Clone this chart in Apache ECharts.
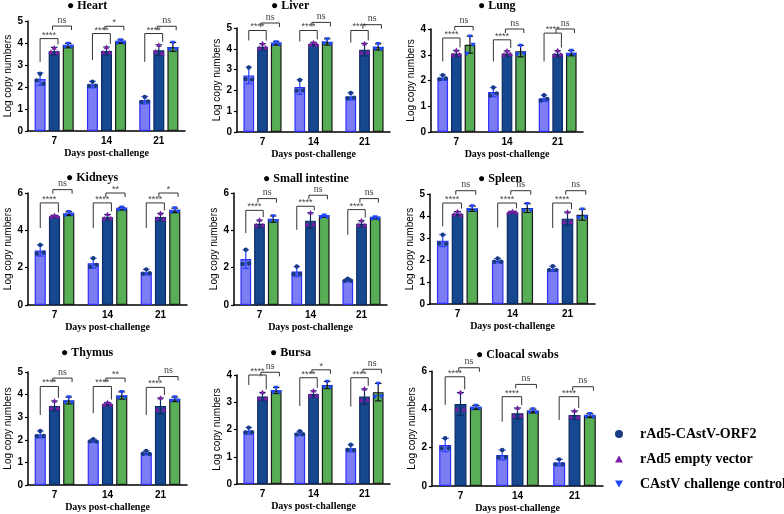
<!DOCTYPE html>
<html>
<head>
<meta charset="utf-8">
<script src="https://cdn.jsdelivr.net/npm/echarts@6/dist/echarts.min.js"></script>
<style>
html, body { margin: 0; padding: 0; background: #fff; }
#main { width: 784px; height: 514px; }
</style>
</head>
<body>
<div id="main"></div>
<script>
// categories
const days = ['7', '14', '21'];
const groupNames = ['rAd5-CAstV-ORF2', 'rAd5 empty vector', 'CAstV challenge control'];

// [group][day] means, sd and individual points
const heartMean = [[2.36, 2.11, 1.40], [3.63, 3.64, 3.67], [3.88, 4.06, 3.82]];
const heartSd = [[0.28, 0.15, 0.17], [0.17, 0.18, 0.25], [0.10, 0.08, 0.20]];
const heartPts = [
  [[2.60, 2.30, 2.15], [2.24, 2.05, 2.06], [1.55, 1.32, 1.34]],
  [[3.78, 3.58, 3.55], [3.80, 3.56, 3.57], [3.90, 3.60, 3.52]],
  [[3.97, 3.84, 3.85], [4.13, 4.02, 4.03], [4.02, 3.72, 3.74]]
];
const heartSig = ['ns', '*', 'ns'];
const heartB1 = [4.20, 4.43, 4.43];
const heartLeg = [3.14, 3.22, 3.14];
const heartB2 = [4.77, 4.76, 4.76];

const liverMean = [[2.72, 2.16, 1.71], [4.10, 4.23, 3.96], [4.26, 4.33, 4.09]];
const liverSd = [[0.40, 0.35, 0.17], [0.15, 0.08, 0.30], [0.08, 0.15, 0.15]];
const liverPts = [
  [[3.10, 2.55, 2.52], [2.50, 1.98, 2.00], [1.88, 1.62, 1.65]],
  [[4.25, 4.02, 4.05], [4.30, 4.18, 4.20], [4.25, 3.80, 3.82]],
  [[4.33, 4.22, 4.23], [4.47, 4.28, 4.25], [4.24, 4.02, 4.01]]
];
const liverSig = ['ns', 'ns', 'ns'];
const liverB1 = [4.88, 4.88, 4.88];
const liverLeg = [4.40, 4.35, 4.30];
const liverB2 = [5.24, 5.27, 5.16];

const lungMean = [[2.11, 1.55, 1.31], [3.05, 3.05, 3.04], [3.39, 3.14, 3.06]];
const lungSd = [[0.10, 0.18, 0.12], [0.12, 0.10, 0.12], [0.33, 0.22, 0.10]];
const lungPts = [
  [[2.21, 2.05, 2.08], [1.73, 1.42, 1.50], [1.43, 1.22, 1.28]],
  [[3.17, 2.98, 3.00], [3.15, 2.98, 3.02], [3.16, 2.97, 3.00]],
  [[3.72, 3.05, 3.40], [3.36, 3.02, 3.05], [3.16, 3.01, 3.02]]
];
const lungSig = ['ns', 'ns', 'ns'];
const lungB1 = [3.65, 3.58, 3.84];
const lungLeg = [2.74, 2.74, 2.74];
const lungB2 = [4.10, 4.00, 4.00];

const kidneysMean = [[2.92, 2.24, 1.76], [4.75, 4.70, 4.71], [4.89, 5.16, 5.07]];
const kidneysSd = [[0.30, 0.27, 0.15], [0.05, 0.15, 0.20], [0.10, 0.07, 0.12]];
const kidneysPts = [
  [[3.22, 2.75, 2.80], [2.51, 2.05, 2.15], [1.91, 1.68, 1.70]],
  [[4.80, 4.72, 4.73], [4.85, 4.62, 4.63], [4.91, 4.62, 4.60]],
  [[4.99, 4.82, 4.86], [5.23, 5.12, 5.13], [5.19, 5.00, 5.02]]
];
const kidneysSig = ['ns', '**', '*'];
const kidneysB1 = [5.47, 5.47, 5.47];
const kidneysLeg = [4.12, 4.12, 4.12];
const kidneysB2 = [6.18, 6.00, 6.00];

const intestineMean = [[2.46, 1.79, 1.33], [4.35, 4.52, 4.35], [4.60, 4.75, 4.66]];
const intestineSd = [[0.50, 0.27, 0.08], [0.20, 0.42, 0.17], [0.17, 0.05, 0.05]];
const intestinePts = [
  [[2.96, 2.20, 2.22], [2.06, 1.65, 1.66], [1.41, 1.29, 1.30]],
  [[4.55, 4.25, 4.26], [4.94, 4.30, 4.32], [4.52, 4.27, 4.26]],
  [[4.77, 4.52, 4.51], [4.80, 4.72, 4.73], [4.71, 4.63, 4.64]]
];
const intestineSig = ['ns', 'ns', 'ns'];
const intestineB1 = [5.07, 5.29, 5.11];
const intestineLeg = [3.85, 4.03, 3.76];
const intestineB2 = [5.70, 5.88, 5.70];

const spleenMean = [[2.88, 1.97, 1.60], [4.10, 4.17, 3.88], [4.33, 4.36, 4.06]];
const spleenSd = [[0.27, 0.10, 0.12], [0.10, 0.04, 0.30], [0.12, 0.20, 0.25]];
const spleenPts = [
  [[3.15, 2.75, 2.74], [2.07, 1.92, 1.92], [1.72, 1.54, 1.54]],
  [[4.20, 4.06, 4.04], [4.21, 4.15, 4.15], [4.18, 3.73, 3.72]],
  [[4.45, 4.28, 4.27], [4.56, 4.26, 4.27], [4.31, 3.93, 3.95]]
];
const spleenSig = ['ns', 'ns', 'ns'];
const spleenB1 = [4.59, 4.59, 4.59];
const spleenLeg = [3.53, 3.48, 3.45];
const spleenB2 = [5.15, 5.15, 5.15];

const thymusMean = [[2.24, 1.96, 1.42], [3.50, 3.58, 3.50], [3.74, 3.96, 3.79]];
const thymusSd = [[0.15, 0.07, 0.09], [0.22, 0.07, 0.35], [0.15, 0.16, 0.10]];
const thymusPts = [
  [[2.39, 2.16, 2.17], [2.03, 1.93, 1.92], [1.51, 1.38, 1.37]],
  [[3.72, 3.40, 3.39], [3.65, 3.54, 3.55], [3.85, 3.32, 3.33]],
  [[3.89, 3.67, 3.66], [4.12, 3.87, 3.89], [3.89, 3.74, 3.75]]
];
const thymusSig = ['ns', '**', 'ns'];
const thymusB1 = [4.36, 4.36, 4.32];
const thymusLeg = [3.10, 3.18, 3.10];
const thymusB2 = [4.73, 4.73, 4.80];

const bursaMean = [[1.95, 1.86, 1.31], [3.21, 3.30, 3.21], [3.43, 3.63, 3.37]];
const bursaSd = [[0.12, 0.08, 0.13], [0.15, 0.12, 0.28], [0.11, 0.13, 0.32]];
const bursaPts = [
  [[2.07, 1.89, 1.90], [1.94, 1.82, 1.83], [1.44, 1.25, 1.24]],
  [[3.36, 3.13, 3.14], [3.42, 3.24, 3.24], [3.49, 3.07, 3.08]],
  [[3.54, 3.38, 3.37], [3.76, 3.57, 3.56], [3.69, 3.21, 3.22]]
];
const bursaSig = ['ns', '*', 'ns'];
const bursaB1 = [4.00, 3.90, 3.90];
const bursaLeg = [3.63, 2.86, 2.84];
const bursaB2 = [4.10, 4.19, 4.21];

const cloacaMean = [[2.14, 1.62, 1.22], [4.28, 3.79, 3.70], [4.10, 3.91, 3.67]];
const cloacaSd = [[0.35, 0.26, 0.17], [0.60, 0.28, 0.22], [0.10, 0.10, 0.10]];
const cloacaPts = [
  [[2.49, 1.96, 1.97], [1.88, 1.49, 1.50], [1.39, 1.13, 1.14]],
  [[4.88, 3.98, 3.97], [4.07, 3.65, 3.66], [3.92, 3.59, 3.58]],
  [[4.20, 4.05, 4.06], [4.01, 3.86, 3.86], [3.77, 3.62, 3.62]]
];
const cloacaSig = ['ns', 'ns', 'ns'];
const cloacaB1 = [5.70, 4.66, 4.66];
const cloacaLeg = [4.23, 3.36, 3.44];
const cloacaB2 = [6.17, 5.30, 5.18];

const panels = [
  { name: 'Heart', max: 5, step: 1, mean: heartMean, sd: heartSd, pts: heartPts, sig: heartSig, b1: heartB1, leg: heartLeg, b2: heartB2, box: [28, 21, 157, 110], head: [67, 0] },
  { name: 'Liver', max: 5, step: 1, mean: liverMean, sd: liverSd, pts: liverPts, sig: liverSig, b1: liverB1, leg: liverLeg, b2: liverB2, box: [237, 28, 153, 104], head: [271, 0] },
  { name: 'Lung', max: 4, step: 1, mean: lungMean, sd: lungSd, pts: lungPts, sig: lungSig, b1: lungB1, leg: lungLeg, b2: lungB2, box: [431, 29, 152, 103], head: [478, 0] },
  { name: 'Kidneys', max: 6, step: 2, mean: kidneysMean, sd: kidneysSd, pts: kidneysPts, sig: kidneysSig, b1: kidneysB1, leg: kidneysLeg, b2: kidneysB2, box: [28, 193, 159, 112], head: [66, 172] },
  { name: 'Small intestine', max: 6, step: 2, mean: intestineMean, sd: intestineSd, pts: intestinePts, sig: intestineSig, b1: intestineB1, leg: intestineLeg, b2: intestineB2, box: [234, 193, 153, 112], head: [263, 173] },
  { name: 'Spleen', max: 5, step: 1, mean: spleenMean, sd: spleenSd, pts: spleenPts, sig: spleenSig, b1: spleenB1, leg: spleenLeg, b2: spleenB2, box: [430, 194, 165, 110], head: [478, 173] },
  { name: 'Thymus', max: 5, step: 1, mean: thymusMean, sd: thymusSd, pts: thymusPts, sig: thymusSig, b1: thymusB1, leg: thymusLeg, b2: thymusB2, box: [28, 372, 159, 113], head: [61, 347] },
  { name: 'Bursa', max: 4, step: 1, mean: bursaMean, sd: bursaSd, pts: bursaPts, sig: bursaSig, b1: bursaB1, leg: bursaLeg, b2: bursaB2, box: [237, 375, 153, 109], head: [270, 347] },
  { name: 'Cloacal swabs', max: 6, step: 2, mean: cloacaMean, sd: cloacaSd, pts: cloacaPts, sig: cloacaSig, b1: cloacaB1, leg: cloacaLeg, b2: cloacaB2, box: [432, 371, 171, 115], head: [476, 349] }
];

const BAR_W = 0.21, BAR_GAP = 0.28;
const barFill = ['#7d7df3', '#16488f', '#58ae54'];
const barEdge = ['#2f2fff', '#0c2a63', '#1a1a1a'];
const errColor = ['#2540ff', '#0c2a63', '#111111'];
const ptColor = ['#183c80', '#7a1fa3', '#1f47ff'];
const ptOffset = [0, -0.3, 0.3];

// centre x of bar s inside category j
function barX(api, j, s) {
  const band = api.size([1, 0])[0];
  const w = band * BAR_W;
  const c = api.coord([j, 0])[0];
  return { x: c + (s - 1) * w * (1 + BAR_GAP), w: w };
}

function marker(s, x, y) {
  const st = { fill: ptColor[s] };
  if (s === 0) return { type: 'circle', shape: { cx: x, cy: y, r: 2.2 }, style: st };
  if (s === 1) return { type: 'polygon', shape: { points: [[x, y - 2.8], [x - 2.6, y + 1.8], [x + 2.6, y + 1.8]] }, style: st };
  return { type: 'polygon', shape: { points: [[x, y + 2.8], [x - 2.6, y - 1.8], [x + 2.6, y - 1.8]] }, style: st };
}

const grid = [], xAxis = [], yAxis = [], series = [], title = [];

panels.forEach(function (p, i) {
  grid.push({ left: p.box[0], top: p.box[1], width: p.box[2], height: p.box[3], containLabel: false });
  title.push({
    text: '\u25CF ' + p.name, left: p.head[0], top: p.head[1], padding: 0,
    textStyle: { fontFamily: 'Liberation Serif', fontWeight: 'bold', fontSize: 12, color: '#000' }
  });
  xAxis.push({
    type: 'category', gridIndex: i, data: days,
    axisLine: { lineStyle: { color: '#000', width: 1.5 } },
    axisTick: { alignWithLabel: true, length: 3, lineStyle: { color: '#000', width: 1.2 } },
    axisLabel: { color: '#000', fontWeight: 'bold', fontSize: 10, fontFamily: 'Liberation Sans', margin: 5 },
    name: 'Days post-challenge', nameLocation: 'middle', nameGap: 17,
    nameTextStyle: { fontFamily: 'Liberation Serif', fontWeight: 'bold', fontSize: 10, color: '#000' }
  });
  yAxis.push({
    type: 'value', gridIndex: i, min: 0, max: p.max, interval: p.step,
    splitLine: { show: false },
    axisLine: { show: true, lineStyle: { color: '#000', width: 1.5 } },
    axisTick: { show: true, length: 3, lineStyle: { color: '#000', width: 1.2 } },
    axisLabel: { color: '#000', fontWeight: 'bold', fontSize: 10, fontFamily: 'Liberation Sans', margin: 5 },
    name: 'Log copy numbers', nameLocation: 'middle', nameGap: 13,
    nameTextStyle: { fontFamily: 'Liberation Sans', fontSize: 10, color: '#000' }
  });

  for (let s = 0; s < 3; s++) {
    series.push({
      type: 'bar', name: 'bar' + s, xAxisIndex: i, yAxisIndex: i,
      barWidth: (BAR_W * 100) + '%', barGap: (BAR_GAP * 100) + '%',
      data: p.mean[s], silent: true, z: 2,
      itemStyle: { color: barFill[s], borderColor: barEdge[s], borderWidth: 1.2 }
    });
  }
  for (let s = 0; s < 3; s++) {
    series.push({
      type: 'custom', name: 'err' + s, xAxisIndex: i, yAxisIndex: i, z: 3, silent: true, clip: false,
      data: days.map(function (d, j) { return [j, p.mean[s][j], p.sd[s][j]]; }),
      renderItem: function (params, api) {
        const j = api.value(0), m = api.value(1), e = api.value(2);
        const b = barX(api, j, s);
        const top = api.coord([j, m + e])[1], bot = api.coord([j, m - e])[1];
        const cw = b.w * 0.3;
        const st = { stroke: errColor[s], lineWidth: 1.2 };
        return { type: 'group', children: [
          { type: 'line', shape: { x1: b.x, y1: top, x2: b.x, y2: bot }, style: st },
          { type: 'line', shape: { x1: b.x - cw, y1: top, x2: b.x + cw, y2: top }, style: st },
          { type: 'line', shape: { x1: b.x - cw, y1: bot, x2: b.x + cw, y2: bot }, style: st }
        ] };
      }
    });
  }
  for (let s = 0; s < 3; s++) {
    const rows = [];
    p.pts[s].forEach(function (trip, j) {
      trip.forEach(function (v, k) { rows.push([j, v, k]); });
    });
    series.push({
      type: 'custom', name: groupNames[s], xAxisIndex: i, yAxisIndex: i, z: 4, silent: true, clip: false,
      itemStyle: { color: ptColor[s] },
      data: rows,
      renderItem: function (params, api) {
        const j = api.value(0), v = api.value(1), k = api.value(2);
        const b = barX(api, j, s);
        const y = api.coord([j, v])[1];
        return marker(s, b.x + ptOffset[k] * b.w, y);
      }
    });
  }
  series.push({
    type: 'custom', name: 'sig', xAxisIndex: i, yAxisIndex: i, z: 5, silent: true, clip: false,
    data: days.map(function (d, j) { return [j, p.b1[j]]; }),
    renderItem: function (params, api) {
      const j = params.dataIndex;
      const a = barX(api, j, 0), b = barX(api, j, 1), c = barX(api, j, 2);
      const y1 = api.coord([j, p.b1[j]])[1];
      const yl = api.coord([j, p.leg[j]])[1];
      const yr = Math.max(api.coord([j, p.mean[1][j] + p.sd[1][j]])[1] - 3, y1 + 4);
      const x1 = a.x, x2 = b.x + b.w * 0.35;
      const y2 = api.coord([j, p.b2[j]])[1];
      const x3 = b.x - b.w * 0.15, x4 = c.x + c.w * 0.3;
      const ln = { stroke: '#333', fill: null, lineWidth: 1 };
      return { type: 'group', children: [
        { type: 'polyline', shape: { points: [[x1, yl], [x1, y1], [x2, y1], [x2, yr]] }, style: ln },
        { type: 'text', style: { text: '****', x: (x1 + x2) / 2, y: y1 + 1, align: 'center', verticalAlign: 'bottom', textAlign: 'center', textVerticalAlign: 'bottom', font: '9px "Liberation Sans"', fill: '#444' } },
        { type: 'polyline', shape: { points: [[x3, y2 + 4], [x3, y2], [x4, y2], [x4, y2 + 4]] }, style: ln },
        { type: 'text', style: { text: p.sig[j], x: (x3 + x4) / 2, y: p.sig[j] === 'ns' ? y2 - 1 : y2 + 1, align: 'center', verticalAlign: 'bottom', textAlign: 'center', textVerticalAlign: 'bottom', font: (p.sig[j] === 'ns' ? '10px "Liberation Serif"' : '9px "Liberation Sans"'), fill: '#444' } }
      ] };
    }
  });
});

const chart = echarts.init(document.getElementById('main'), null, { renderer: 'canvas' });
chart.setOption({
  backgroundColor: '#fff',
  animation: false,
  title: title,
  grid: grid,
  xAxis: xAxis,
  yAxis: yAxis,
  legend: {
    orient: 'vertical', left: 615, top: 427, padding: 0,
    itemWidth: 8, itemHeight: 8, itemGap: 11, selectedMode: false,
    textStyle: { fontFamily: 'Liberation Serif', fontWeight: 'bold', fontSize: 14, color: '#000', padding: [0, 0, 0, 12] },
    data: [
      { name: groupNames[0], icon: 'circle', itemStyle: { color: ptColor[0] } },
      { name: groupNames[1], icon: 'path://M5,0L10,9L0,9Z', itemStyle: { color: ptColor[1] } },
      { name: groupNames[2], icon: 'path://M0,0L10,0L5,9Z', itemStyle: { color: ptColor[2] } }
    ]
  },
  series: series
});
</script>
</body>
</html>
